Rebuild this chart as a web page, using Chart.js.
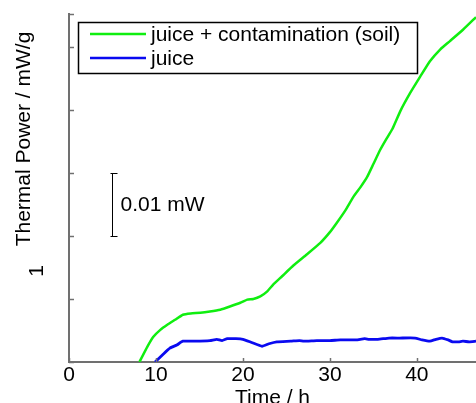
<!DOCTYPE html>
<html lang="en">
<head>
  <meta charset="UTF-8">
  <title>Thermal Power vs Time</title>
  <script src="https://cdn.jsdelivr.net/npm/chart.js"></script>
  <style>
    body { margin: 0; background: #fff; }
    canvas { display: block; }
  </style>
</head>
<body>
  <canvas id="tp" width="476" height="403"></canvas>

  <script>
    // time in h, power in mW/g (one y tick = 0.01)
    const soilTime  = [8.1, 9.0, 9.7, 10.5, 11.3, 12.2, 13.1, 14.0, 15.1, 16.2, 17.4, 18.5, 19.7, 20.5, 21.2, 22.0, 22.8, 23.5, 24.5, 25.8, 27.2, 28.9, 30.0, 30.8, 31.8, 32.7, 33.5, 34.3, 35.0, 35.8, 36.5, 37.2, 38.1, 39.2, 40.4, 41.5, 42.7, 43.8, 45.3, 46.8];
    const soilPower = [0, 0.0024, 0.0040, 0.0051, 0.0059, 0.0067, 0.0075, 0.0077, 0.0078, 0.0080, 0.0083, 0.0088, 0.0094, 0.0099, 0.0100, 0.0104, 0.0112, 0.0123, 0.0136, 0.0153, 0.0169, 0.0189, 0.0206, 0.0221, 0.0241, 0.0262, 0.0277, 0.0294, 0.0314, 0.0337, 0.0354, 0.0370, 0.0398, 0.0426, 0.0453, 0.0477, 0.0496, 0.0509, 0.0527, 0.0547];
    const juiceTime  = [9.9, 10.8, 11.6, 12.4, 13.1, 14.5, 16.2, 17.0, 17.6, 18.2, 19.2, 20.0, 21.0, 22.2, 23.0, 23.9, 25.5, 26.5, 27.0, 28.5, 30.0, 31.2, 33.0, 34.0, 34.5, 35.5, 36.8, 38.0, 39.8, 40.6, 41.5, 42.2, 42.9, 43.6, 44.1, 44.8, 45.3, 46.0, 46.8];
    const juicePower = [0, 0.0012, 0.0022, 0.0027, 0.0033, 0.0033, 0.0034, 0.0036, 0.0034, 0.0037, 0.0037, 0.0036, 0.0031, 0.0025, 0.0029, 0.0032, 0.0033, 0.0034, 0.0033, 0.0034, 0.0034, 0.0035, 0.0035, 0.0037, 0.0036, 0.0036, 0.0038, 0.0038, 0.0038, 0.0035, 0.0033, 0.0036, 0.0038, 0.0035, 0.0032, 0.0032, 0.0033, 0.0032, 0.0033];

    const seriesNames = ['juice + contamination (soil)', 'juice'];
    const xTicks = [0, 10, 20, 30, 40];
    const yTicks = [0, 0.01, 0.02, 0.03, 0.04, 0.05];

    // 0.01 mW scale bar
    const barTime = 5;
    const barFrom = 0.02;
    const barTo = 0.03;
    const barLabel = '0.01 mW';

    const yTitle = 'Thermal Power / mW/g';
    const strayMark = '1';

    const FAMILY = '"Liberation Sans", Arial, sans-serif';
    const FONT = '21px ' + FAMILY;
    const AXIS = '#707070';

    function pts(xs, ys) {
      return xs.map((x, i) => ({ x: x, y: ys[i] }));
    }

    const extras = {
      id: 'extras',
      afterDraw(chart) {
        const c = chart.ctx;
        const xs = chart.scales.x, ys = chart.scales.y;
        const a = chart.chartArea;
        c.save();

        // inward tick marks
        c.strokeStyle = AXIS;
        c.lineWidth = 1.5;
        yTicks.concat([ys.max]).forEach(v => {
          const py = Math.round(ys.getPixelForValue(v)) + 0.5;
          c.beginPath(); c.moveTo(a.left, py); c.lineTo(a.left + 5, py); c.stroke();
        });
        xTicks.forEach(v => {
          const px = Math.round(xs.getPixelForValue(v)) + 0.5;
          c.beginPath(); c.moveTo(px, a.bottom); c.lineTo(px, a.bottom - 4); c.stroke();
        });

        // y title and the stray glyph
        c.fillStyle = '#000';
        c.font = FONT;
        c.textAlign = 'center';
        c.textBaseline = 'middle';
        c.save();
        c.translate(24, 139);
        c.rotate(-Math.PI / 2);
        c.fillText(yTitle, 0, 0);
        c.restore();
        c.save();
        c.translate(37, 271);
        c.rotate(-Math.PI / 2);
        c.fillText(strayMark, 0, 0);
        c.restore();

        // scale bar
        const bx = Math.round(xs.getPixelForValue(barTime)) + 0.5;
        const b1 = Math.round(ys.getPixelForValue(barFrom)) + 0.5;
        const b2 = Math.round(ys.getPixelForValue(barTo)) + 0.5;
        c.strokeStyle = '#000';
        c.lineWidth = 1;
        c.beginPath();
        c.moveTo(bx, b1); c.lineTo(bx, b2);
        c.moveTo(bx - 2, b1); c.lineTo(bx + 5, b1);
        c.moveTo(bx - 2, b2); c.lineTo(bx + 5, b2);
        c.stroke();
        c.textAlign = 'left';
        c.fillText(barLabel, bx + 8, (b1 + b2) / 2);

        // legend box
        c.fillStyle = '#fff';
        c.fillRect(78, 22, 339, 51);
        c.strokeStyle = '#000';
        c.lineWidth = 1.5;
        c.strokeRect(78.5, 22.5, 339, 51);
        chart.data.datasets.forEach((ds, i) => {
          const ly = 34 + i * 24;
          c.strokeStyle = ds.borderColor;
          c.lineWidth = 2.5;
          c.beginPath(); c.moveTo(90, ly); c.lineTo(146, ly); c.stroke();
          c.fillStyle = '#000';
          c.fillText(ds.label, 151, ly + 1);
        });
        c.restore();
      }
    };

    new Chart(document.getElementById('tp'), {
      type: 'line',
      data: {
        datasets: [
          { label: seriesNames[0], data: pts(soilTime, soilPower), borderColor: '#10ee10', borderWidth: 2.5, pointRadius: 0, tension: 0.15 },
          { label: seriesNames[1], data: pts(juiceTime, juicePower), borderColor: '#0a0af0', borderWidth: 2.8, pointRadius: 0, tension: 0.15 }
        ]
      },
      options: {
        responsive: false,
        animation: false,
        layout: { padding: { left: 69, top: 14, right: 0, bottom: 0 } },
        plugins: { legend: { display: false }, tooltip: { enabled: false } },
        scales: {
          x: {
            type: 'linear',
            min: 0,
            max: 46.8,
            grid: { display: false, drawTicks: false },
            border: { display: true, color: AXIS, width: 2 },
            ticks: {
              stepSize: 10,
              includeBounds: false,
              maxRotation: 0,
              padding: 1,
              color: '#000',
              font: { family: FAMILY, size: 21 }
            },
            title: {
              display: true,
              text: 'Time / h',
              color: '#000',
              padding: { top: 0, bottom: -8 },
              font: { family: FAMILY, size: 21 }
            },
            afterFit(s) { s.height = 41; }
          },
          y: {
            min: 0,
            max: 0.0552,
            grid: { display: false, drawTicks: false },
            border: { display: true, color: AXIS, width: 2 },
            ticks: { display: false },
            afterFit(s) { s.width = 0; }
          }
        }
      },
      plugins: [extras]
    });
  </script>
</body>
</html>
